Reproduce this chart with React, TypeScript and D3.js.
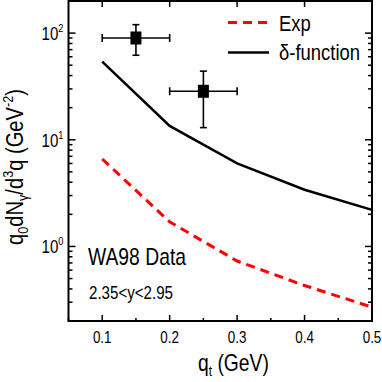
import React from "react";
import * as d3 from "d3";

const qt = [0.1, 0.2, 0.3, 0.4, 0.5];
const expVals = [6.6, 1.7, 0.73, 0.43, 0.27];
const deltaVals = [54, 13.5, 6.0, 3.4, 2.2];
const dataX = [0.15, 0.25];
const dataY = [90, 28.5];
const dataXLo = [0.1, 0.2];
const dataXHi = [0.2, 0.3];
const dataYLo = [62, 13];
const dataYHi = [120, 44];
const xTicks = [0.1, 0.2, 0.3, 0.4, 0.5];
const xMinor = [0.05, 0.15, 0.25, 0.35, 0.45];
const yMajor = [1, 10, 100];
const yExp = ["0", "1", "2"];

const W = 382, H = 382;
const L = 68.5, R = 372, T = 1, B = 321;
const FONT = "'Liberation Sans', Arial, sans-serif";
const SX = 0.84;

function NText({ x, y, rot = 0, anchor = "start", size, children }: any) {
  return (
    <g transform={`translate(${x},${y}) rotate(${rot}) scale(${SX},1)`}>
      <text x={0} y={0} textAnchor={anchor} fontSize={size} fill="#000">
        {children}
      </text>
    </g>
  );
}

export default function App() {
  const x = d3.scaleLinear().domain([0.05, 0.5]).range([L, R]);
  const y = d3.scaleLog().domain([0.2, 200]).range([B, T]);
  const line = d3.line<number>().x((_, i) => x(qt[i])).y((d) => y(d));

  const minorY: number[] = [];
  for (let e = -1; e <= 2; e++) {
    for (let m = 2; m <= 9; m++) {
      const v = m * Math.pow(10, e);
      if (v >= 0.2 && v <= 200) minorY.push(v);
    }
  }

  return (
    <svg width={W} height={H} style={{ position: "absolute", left: 0, top: 0, background: "#fff" }} fontFamily={FONT}>
      <rect x={0} y={0} width={W} height={H} fill="#fff" />
      {/* curves */}
      <path d={line(expVals) || ""} fill="none" stroke="#ff0000" strokeWidth={3} strokeDasharray="9,6" />
      <path d={line(deltaVals) || ""} fill="none" stroke="#000" strokeWidth={2.5} />
      {/* data points */}
      {dataX.map((dx, i) => {
        const cx = x(dx), cy = y(dataY[i]);
        const x0 = x(dataXLo[i]), x1 = x(dataXHi[i]);
        const y0 = y(dataYLo[i]), y1 = y(dataYHi[i]);
        return (
          <g key={i} stroke="#000" strokeWidth={1.6}>
            <line x1={x0} x2={x1} y1={cy} y2={cy} />
            <line x1={x0} x2={x0} y1={cy - 4} y2={cy + 4} />
            <line x1={x1} x2={x1} y1={cy - 4} y2={cy + 4} />
            <line x1={cx} x2={cx} y1={y0} y2={y1} />
            <line x1={cx - 3.5} x2={cx + 3.5} y1={y0} y2={y0} />
            <line x1={cx - 3.5} x2={cx + 3.5} y1={y1} y2={y1} />
            <rect x={cx - 5.5} y={cy - 6.5} width={11} height={13} fill="#000" stroke="none" />
          </g>
        );
      })}
      {/* frame */}
      <rect x={L} y={T} width={R - L} height={B - T} fill="none" stroke="#000" strokeWidth={2} />
      {/* x ticks */}
      {xTicks.map((t) => (
        <g key={"xt" + t} stroke="#000" strokeWidth={1.5}>
          <line x1={x(t)} x2={x(t)} y1={B} y2={B - 6} />
          <line x1={x(t)} x2={x(t)} y1={T} y2={T + 6} />
        </g>
      ))}
      {xMinor.map((t) => (
        <line key={"xm" + t} x1={x(t)} x2={x(t)} y1={B} y2={B - 3} stroke="#000" strokeWidth={1.5} />
      ))}
      {xTicks.map((t) => (
        <NText key={"xl" + t} x={x(t)} y={342.5} anchor="middle" size={16}>
          {d3.format(".1f")(t)}
        </NText>
      ))}
      {/* y ticks */}
      {yMajor.map((v) => (
        <g key={"ym" + v} stroke="#000" strokeWidth={1.5}>
          <line x1={L} x2={L + 7} y1={y(v)} y2={y(v)} />
          <line x1={R} x2={R - 7} y1={y(v)} y2={y(v)} />
        </g>
      ))}
      {minorY.map((v) => (
        <g key={"yn" + v} stroke="#000" strokeWidth={1.5}>
          <line x1={L} x2={L + 4} y1={y(v)} y2={y(v)} />
          <line x1={R} x2={R - 4} y1={y(v)} y2={y(v)} />
        </g>
      ))}
      {yMajor.map((v, i) => (
        <NText key={"yl" + v} x={63.5} y={y(v) + 7} anchor="end" size={18}>
          10
          <tspan fontSize={11} dy={-8}>{yExp[i]}</tspan>
        </NText>
      ))}
      {/* legend */}
      <line x1={228} x2={269} y1={22.5} y2={22.5} stroke="#ff0000" strokeWidth={3} strokeDasharray="9,6" />
      <NText x={279} y={31} size={22}>Exp</NText>
      <line x1={228} x2={269} y1={52.5} y2={52.5} stroke="#000" strokeWidth={2.5} />
      <NText x={279} y={60} size={22}>δ-function</NText>
      {/* annotations */}
      <NText x={88} y={265} size={23}>WA98 Data</NText>
      <NText x={89} y={299} size={18}>2.35&lt;y&lt;2.95</NText>
      {/* axis labels */}
      <NText x={198} y={371} size={23}>
        q<tspan fontSize={14} dy={5}>t</tspan>
        <tspan dy={-5}> (GeV)</tspan>
      </NText>
      <NText x={23} y={167} rot={-90} anchor="middle" size={24}>
        q<tspan fontSize={15} dy={5}>0</tspan>
        <tspan dy={-5}>dN</tspan>
        <tspan fontSize={15} dy={5}>γ</tspan>
        <tspan dy={-5}>/d</tspan>
        <tspan fontSize={15} dy={-10}>3</tspan>
        <tspan dy={10}>q (GeV</tspan>
        <tspan fontSize={15} dy={-10}>-2</tspan>
        <tspan dy={10}>)</tspan>
      </NText>
    </svg>
  );
}
